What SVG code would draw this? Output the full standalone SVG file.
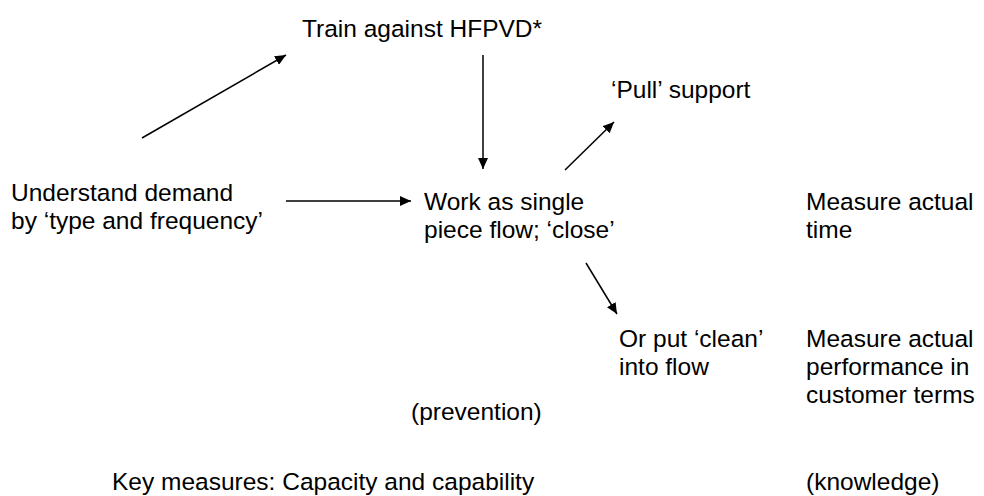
<svg xmlns="http://www.w3.org/2000/svg" width="984" height="496" viewBox="0 0 984 496">
<defs>
<marker id="ah" viewBox="0 0 11 10" refX="11" refY="5" markerWidth="11" markerHeight="10" markerUnits="userSpaceOnUse" orient="auto">
<path d="M0,0 L11,5 L0,10 z" fill="#000"/>
</marker>
<style>
text{font-family:"Liberation Sans",Arial,sans-serif;font-size:24.5px;fill:#000}
.c{stroke:#000;stroke-width:1.5;fill:none;marker-end:url(#ah)}
</style>
</defs>
<rect width="984" height="496" fill="#fff"/>
<g id="connectors">
<line class="c" x1="142" y1="138" x2="286" y2="55"/>
<line class="c" x1="286" y1="201" x2="411" y2="201"/>
<line class="c" x1="483" y1="55" x2="483" y2="169"/>
<line class="c" x1="565" y1="170" x2="614" y2="122"/>
<line class="c" x1="586" y1="263" x2="617" y2="314"/>
</g>
<g id="train"><text x="302" y="37">Train against HFPVD*</text></g>
<g id="pull"><text x="611" y="98">‘Pull’ support</text></g>
<g id="understand"><text x="11" y="201">Understand demand</text><text x="11" y="229">by ‘type and frequency’</text></g>
<g id="work"><text x="424" y="210">Work as single</text><text x="424" y="238">piece flow; ‘close’</text></g>
<g id="measure-time"><text x="806" y="210">Measure actual</text><text x="806" y="238">time</text></g>
<g id="clean"><text x="619" y="347">Or put ‘clean’</text><text x="619" y="375">into flow</text></g>
<g id="measure-perf"><text x="806" y="347">Measure actual</text><text x="806" y="375">performance in</text><text x="806" y="403">customer terms</text></g>
<g id="prevention"><text x="411" y="420">(prevention)</text></g>
<g id="key"><text x="112" y="490">Key measures: Capacity and capability</text></g>
<g id="knowledge"><text x="806" y="490">(knowledge)</text></g>
</svg>
